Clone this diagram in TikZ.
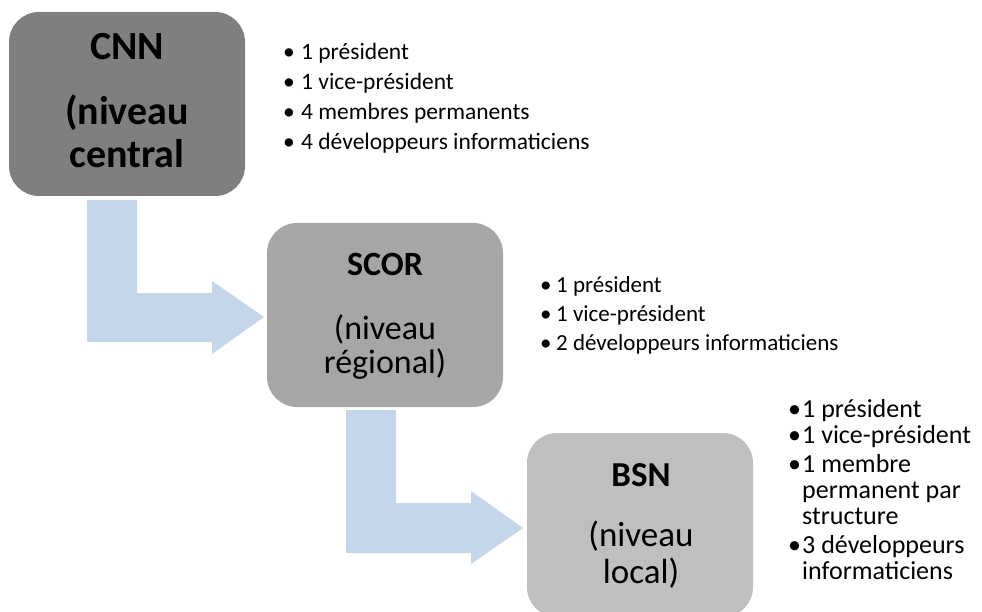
\documentclass[tikz,border=0pt]{standalone}
\usepackage{fontspec}
\setmainfont{Carlito}
\definecolor{cnngray}{RGB}{127,127,127}
\definecolor{scorgray}{RGB}{166,166,166}
\definecolor{bsngray}{RGB}{191,191,191}
\definecolor{arrowblue}{RGB}{197,213,234}
\tikzset{
  lvlbox/.style={rectangle, rounded corners=30pt, draw=none, inner sep=0pt},
  boxtxt/.style={anchor=base, inner sep=0pt, text=black},
  itemtxt/.style={anchor=base west, inner sep=0pt, text=black},
  flowarrow/.style={fill=arrowblue, draw=none}
}
\begin{document}
\begin{tikzpicture}[x=1pt,y=-1pt]
\useasboundingbox (0,0) rectangle (982,612);
\clip (0,0) rectangle (982,612);

% bent arrows
\fill[flowarrow] (87,200) -- (137,200) -- (137,293) -- (212,293) -- (212,281)
  -- (264,317) -- (212,354) -- (212,342) -- (87,342) -- cycle;
\fill[flowarrow] (346,410) -- (396,410) -- (396,503) -- (471,503) -- (471,491)
  -- (523,528) -- (471,564) -- (471,553) -- (346,553) -- cycle;

% level boxes
\node[lvlbox, fill=cnngray, minimum width=236pt, minimum height=184pt] (cnn) at (127,104) {};
\node[lvlbox, fill=scorgray, minimum width=236pt, minimum height=184pt] (scor) at (385,315) {};
\node[lvlbox, fill=bsngray, minimum width=226pt, minimum height=184pt] (bsn) at (640,525) {};

% box texts
\node[boxtxt, font=\fontsize{40}{40}\selectfont\bfseries] (cnnA) at (127,60) {CNN};
\node[boxtxt, font=\fontsize{40}{40}\selectfont\bfseries] (cnnB) at (127,125) {(niveau};
\node[boxtxt, font=\fontsize{40}{40}\selectfont\bfseries] (cnnC) at (127,168) {central};

\node[boxtxt, font=\fontsize{34}{34}\selectfont\bfseries] (scorA) at (385,276) {SCOR};
\node[boxtxt, font=\fontsize{34}{34}\selectfont] (scorB) at (385,339) {(niveau};
\node[boxtxt, font=\fontsize{34}{34}\selectfont] (scorC) at (385,373) {régional)};

\node[boxtxt, font=\fontsize{35}{35}\selectfont\bfseries] (bsnA) at (641,486) {BSN};
\node[boxtxt, font=\fontsize{35}{35}\selectfont] (bsnB) at (641,546) {(niveau};
\node[boxtxt, font=\fontsize{35}{35}\selectfont] (bsnC) at (641,583) {local)};

% CNN list
\begin{scope}[every node/.append style={itemtxt, font=\fontsize{23.5}{23.5}\selectfont}]
\node (cnnL1) at (283,59.5) {\makebox[18pt][l]{•}1 président};
\node (cnnL2) at (283,89.5) {\makebox[18pt][l]{•}1 vice-président};
\node (cnnL3) at (283,119.5) {\makebox[18pt][l]{•}4 membres permanents};
\node (cnnL4) at (283,149.5) {\makebox[18pt][l]{•}4 développeurs informaticiens};
\end{scope}

% SCOR list
\begin{scope}[every node/.append style={itemtxt, font=\fontsize{23}{23}\selectfont}]
\node (scorL1) at (540,292) {\makebox[16pt][l]{•}1 président};
\node (scorL2) at (540,321) {\makebox[16pt][l]{•}1 vice-président};
\node (scorL3) at (540,350) {\makebox[16pt][l]{•}2 développeurs informaticiens};
\end{scope}

% BSN list
\begin{scope}[every node/.append style={itemtxt, font=\fontsize{26}{26}\selectfont}]
\node (bsnL1) at (788,417) {\makebox[14pt][l]{•}1 président};
\node (bsnL2) at (788,443) {\makebox[14pt][l]{•}1 vice-président};
\node (bsnL3) at (788,472) {\makebox[14pt][l]{•}1 membre};
\node (bsnL3b) at (802,498) {permanent par};
\node (bsnL3c) at (802,524) {structure};
\node (bsnL4) at (788,553) {\makebox[14pt][l]{•}3 développeurs};
\node (bsnL4b) at (802,579) {informaticiens};
\end{scope}
\end{tikzpicture}
\end{document}
